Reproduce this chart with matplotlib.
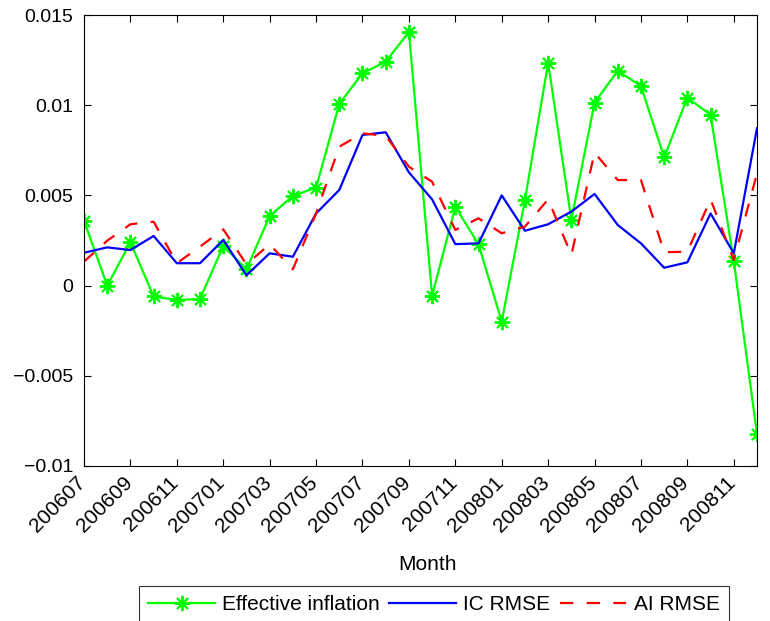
import matplotlib
matplotlib.use("Agg")
import matplotlib.pyplot as plt
from matplotlib.transforms import ScaledTranslation
import numpy as np

months = ["200607","200608","200609","200610","200611","200612",
          "200701","200702","200703","200704","200705","200706",
          "200707","200708","200709","200710","200711","200712",
          "200801","200802","200803","200804","200805","200806",
          "200807","200808","200809","200810","200811","200812"]

effective_inflation = [0.0036, 0.0000, 0.0024, -0.0006, -0.0008, -0.00074,
                       0.0022, 0.0009, 0.00386, 0.00497, 0.00543, 0.01007,
                       0.01177, 0.01241, 0.01406, -0.00056, 0.00437, 0.00229,
                       -0.0020, 0.00474, 0.01236, 0.00364, 0.01014, 0.01191,
                       0.01106, 0.00711, 0.01042, 0.00946, 0.00136, -0.00823]

ic_rmse = [0.00182, 0.00212, 0.00197, 0.00275, 0.00124, 0.00124,
           0.00253, 0.00057, 0.00179, 0.0016, 0.0040, 0.0053,
           0.00835, 0.0085, 0.00628, 0.00478, 0.0023, 0.00234,
           0.0050, 0.00304, 0.0034, 0.0041, 0.00508, 0.00336,
           0.00234, 0.00099, 0.00129, 0.0040, 0.00179, 0.00872]

ai_rmse = [0.00133, 0.00249, 0.0034, 0.00354, 0.00124, 0.00216,
           0.00312, 0.00118, 0.00229, 0.0009, 0.0040, 0.0077,
           0.00844, 0.0083, 0.00659, 0.00576, 0.00308, 0.00373,
           0.0029, 0.00327, 0.00478, 0.0017, 0.00737, 0.00585,
           0.00585, 0.00185, 0.00188, 0.00478, 0.00142, 0.00622]

yticks = [-0.01, -0.005, 0, 0.005, 0.01, 0.015]
ytick_labels = ["\u22120.01", "\u22120.005", "0", "0.005", "0.01", "0.015"]

plt.rcParams['font.family'] = ['Liberation Sans', 'DejaVu Sans']
FS = 14
FS2 = 15
plt.rcParams['font.size'] = FS

fig = plt.figure(figsize=(7.7, 6.21), dpi=100)
ax = fig.add_axes([84/770, 1 - 466/621, (757-84)/770, (466-15)/621])

x = np.arange(len(months))
ax.plot(x, effective_inflation, color='#00ff00', lw=1.6, marker=(8, 2, 0),
        markersize=11, markeredgewidth=1.4, label='Effective inflation')
ax.plot(x, ic_rmse, color='#0000ff', lw=1.6, label='IC RMSE')
ax.plot(x, ai_rmse, color='#ff0000', lw=1.6, ls=(0, (6, 6)), label='AI RMSE')

ax.set_xlim(0, len(months) - 1)
ax.set_ylim(-0.01, 0.015)
ax.set_yticks(yticks)
ax.set_yticklabels(ytick_labels)
ax.set_xticks(x[::2])
ax.set_xticklabels(months[::2], rotation=45, ha='right', va='top',
                   rotation_mode='anchor', fontsize=FS2)
ax.tick_params(direction='in', top=True, right=True, length=5, width=0.8)
ax.tick_params(axis='y', pad=8, labelsize=FS)
ax.tick_params(axis='x', pad=5)
shift = ScaledTranslation(-8/100, 0, fig.dpi_scale_trans)
for lab in ax.get_xticklabels():
    lab.set_transform(lab.get_transform() + shift)
for s in ax.spines.values():
    s.set_linewidth(0.8)
ax.set_xlabel('Month', fontsize=FS2)
ax.xaxis.set_label_coords(428/770, 1 - 565/621, transform=fig.transFigure)
ax.xaxis.label.set_va('center')

leg = ax.legend(loc='upper center', bbox_to_anchor=(434/770, 1 - 586/621),
                bbox_transform=fig.transFigure, ncol=3, frameon=True,
                fancybox=False, edgecolor='black', fontsize=FS2,
                handlelength=3.2, handletextpad=0.35, columnspacing=0.45,
                borderpad=0.45, borderaxespad=0)
leg.get_frame().set_linewidth(0.8)

fig.savefig('out.png', dpi=100)
